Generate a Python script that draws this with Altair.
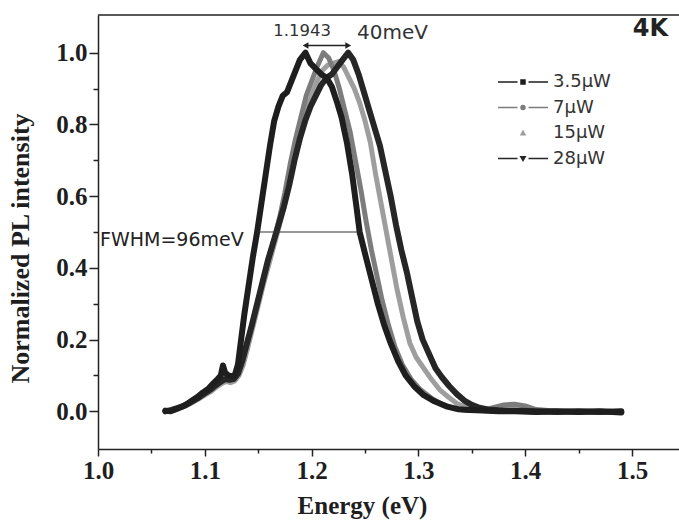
import altair as alt
import pandas as pd

# Photoluminescence spectra at 4 K for four excitation powers
series_names = ["3.5μW", "7μW", "15μW", "28μW"]
series_colors = ["#1e1e1e", "#7c7c7c", "#9e9e9e", "#262626"]
dark_series = ["3.5μW", "28μW"]

energy_35 = [1.063, 1.068, 1.073, 1.078, 1.083, 1.088, 1.093, 1.098, 1.103, 1.108, 1.112, 1.115,
             1.117, 1.119, 1.122, 1.125, 1.128, 1.131, 1.134, 1.137, 1.141, 1.145, 1.149, 1.153,
             1.157, 1.161, 1.165, 1.169, 1.173, 1.177, 1.181, 1.185, 1.189, 1.1943, 1.199, 1.204,
             1.209, 1.214, 1.219, 1.224, 1.228, 1.233, 1.238, 1.242, 1.245, 1.250, 1.256, 1.262,
             1.268, 1.274, 1.281, 1.288, 1.296, 1.305, 1.315, 1.326, 1.337, 1.348, 1.36, 1.375,
             1.39, 1.41, 1.43, 1.45, 1.47, 1.49]
pl_35 = [0.002, 0.0, 0.006, 0.012, 0.02, 0.03, 0.04, 0.052, 0.062, 0.078, 0.09, 0.1,
         0.128, 0.108, 0.1, 0.098, 0.1, 0.13, 0.2, 0.27, 0.35, 0.43, 0.50, 0.58,
         0.66, 0.74, 0.81, 0.85, 0.88, 0.89, 0.92, 0.95, 0.98, 1.0, 0.97, 0.955,
         0.94, 0.93, 0.905, 0.86, 0.82, 0.75, 0.66, 0.57, 0.50, 0.44, 0.37, 0.30,
         0.24, 0.19, 0.14, 0.10, 0.07, 0.045, 0.028, 0.014, 0.006, 0.004, 0.002, 0.0,
         0.0, -0.002, 0.0, -0.002, 0.0, -0.003]

energy_7 = [1.064, 1.07, 1.076, 1.082, 1.088, 1.094, 1.1, 1.106, 1.111, 1.116, 1.120, 1.124,
            1.128, 1.132, 1.136, 1.140, 1.145, 1.150, 1.155, 1.160, 1.165, 1.170, 1.175, 1.180,
            1.185, 1.190, 1.195, 1.200, 1.205, 1.211, 1.216, 1.221, 1.226, 1.231, 1.236, 1.241,
            1.246, 1.251, 1.256, 1.261, 1.266, 1.272, 1.278, 1.285, 1.293, 1.302, 1.312, 1.322,
            1.333, 1.345, 1.36, 1.37, 1.38, 1.39, 1.40, 1.41, 1.43, 1.45, 1.47, 1.49]
pl_7 = [0.0, 0.004, 0.01, 0.018, 0.028, 0.038, 0.05, 0.062, 0.075, 0.085, 0.09, 0.088,
        0.092, 0.11, 0.145, 0.19, 0.25, 0.31, 0.37, 0.43, 0.48, 0.54, 0.61, 0.69,
        0.76, 0.82, 0.88, 0.92, 0.96, 1.0, 0.985, 0.95, 0.90, 0.84, 0.78, 0.70,
        0.62, 0.53, 0.45, 0.38, 0.31, 0.24, 0.18, 0.13, 0.09, 0.06, 0.037, 0.02,
        0.008, 0.003, 0.003, 0.01, 0.018, 0.02, 0.015, 0.005, 0.0, -0.002, 0.0, -0.002]

energy_15 = [1.064, 1.07, 1.076, 1.082, 1.088, 1.094, 1.1, 1.106, 1.111, 1.116, 1.120, 1.124,
             1.128, 1.132, 1.136, 1.140, 1.145, 1.150, 1.155, 1.160, 1.165, 1.170, 1.175, 1.180,
             1.185, 1.190, 1.195, 1.200, 1.205, 1.210, 1.215, 1.220, 1.225, 1.230, 1.235, 1.240,
             1.245, 1.250, 1.255, 1.260, 1.265, 1.270, 1.275, 1.280, 1.286, 1.292, 1.298, 1.305,
             1.312, 1.320, 1.328, 1.336, 1.344, 1.352, 1.36, 1.375, 1.39, 1.41, 1.43, 1.45,
             1.47, 1.49]
pl_15 = [0.0, 0.003, 0.008, 0.015, 0.024, 0.034, 0.045, 0.056, 0.068, 0.078, 0.083, 0.08,
         0.085, 0.1, 0.13, 0.175, 0.235, 0.295, 0.355, 0.41, 0.465, 0.52, 0.58, 0.65,
         0.72, 0.78, 0.84, 0.88, 0.92, 0.95, 0.965, 0.97, 0.975, 0.96, 0.93, 0.90,
         0.86, 0.81, 0.75, 0.66, 0.58, 0.50, 0.42, 0.34, 0.26, 0.19, 0.15, 0.12,
         0.09, 0.06, 0.04, 0.022, 0.012, 0.005, 0.002, 0.0, 0.0, -0.002, 0.0, 0.0,
         -0.002, 0.0]

energy_28 = [1.063, 1.069, 1.075, 1.081, 1.087, 1.093, 1.099, 1.105, 1.110, 1.115, 1.119, 1.123,
             1.127, 1.131, 1.135, 1.139, 1.144, 1.149, 1.154, 1.159, 1.164, 1.169, 1.174, 1.179,
             1.184, 1.189, 1.194, 1.199, 1.204, 1.209, 1.214, 1.219, 1.224, 1.229, 1.2343, 1.239,
             1.244, 1.249, 1.254, 1.259, 1.264, 1.269, 1.274, 1.279, 1.284, 1.289, 1.294, 1.299,
             1.304, 1.310, 1.316, 1.322, 1.329, 1.336, 1.343, 1.350, 1.357, 1.365, 1.375, 1.39,
             1.41, 1.43, 1.45, 1.47, 1.49]
pl_28 = [0.0, 0.004, 0.01, 0.016, 0.026, 0.036, 0.048, 0.06, 0.072, 0.083, 0.09, 0.088,
         0.09, 0.105, 0.14, 0.185, 0.24, 0.30, 0.36, 0.42, 0.47, 0.52, 0.57, 0.63,
         0.70, 0.76, 0.81, 0.85, 0.88, 0.91, 0.93, 0.94, 0.96, 0.98, 1.0, 0.98,
         0.94, 0.89, 0.84, 0.79, 0.74, 0.67, 0.60, 0.52, 0.45, 0.39, 0.32, 0.25,
         0.20, 0.16, 0.12, 0.095, 0.07, 0.048, 0.03, 0.018, 0.01, 0.005, 0.003, 0.002,
         0.0, -0.002, 0.0, -0.002, 0.0]

# Annotated quantities (eV)
peak_low = 1.1943          # peak of the 3.5 μW spectrum
peak_shift = 0.040         # blue shift 3.5 μW -> 28 μW
fwhm_left = 1.149
fwhm_width = 0.096

curves = {
    "15μW": (energy_15, pl_15),
    "7μW": (energy_7, pl_7),
    "28μW": (energy_28, pl_28),
    "3.5μW": (energy_35, pl_35),
}
rows = []
for name, (xs, ys) in curves.items():
    for e, v in zip(xs, ys):
        rows.append({"series": name, "curve": name, "dark": name in dark_series,
                     "energy": e, "pl": v})
df = pd.DataFrame(rows)
one = pd.DataFrame({"k": [0]})

W, H = 581, 434
x_scale = alt.Scale(domain=[1.0, 1.544], nice=False, zero=False)
y_scale = alt.Scale(domain=[-0.105, 1.105], nice=False, zero=False)
col_scale = alt.Scale(domain=series_names, range=series_colors)

# legend glyphs: dash - marker - dash
legend_shapes = [
    "M-2.5,0H-0.55M0.55,0H2.5M-0.2,-0.2H0.2V0.2H-0.2Z",
    "M-2.5,0H-0.55M0.55,0H2.5M-0.2,0A0.2,0.2 0 1,0 0.2,0A0.2,0.2 0 1,0 -0.2,0Z",
    "M-0.2,0.18L0,-0.2L0.2,0.18Z",
    "M-2.5,0H-0.55M0.55,0H2.5M-0.22,-0.18L0.22,-0.18L0,0.2Z",
]
shape_scale = alt.Scale(domain=series_names, range=legend_shapes)

serif = "Liberation Serif"
sans = "DejaVu Sans"
major_x = "abs(datum.value*10 - round(datum.value*10)) < 0.01"
major_y = "abs(datum.value*5 - round(datum.value*5)) < 0.01"

x_axis = alt.Axis(
    values=[1.0, 1.05, 1.1, 1.15, 1.2, 1.25, 1.3, 1.35, 1.4, 1.45, 1.5],
    labelExpr=f"{major_x} ? format(datum.value, '.1f') : ''",
    tickSize={"condition": {"test": major_x, "value": 7}, "value": 4},
    labelFlush=False,
    title="Energy (eV)", titlePadding=10, titleX=264,
)
y_axis = alt.Axis(
    values=[0.0, 0.1, 0.2, 0.3, 0.4, 0.5, 0.6, 0.7, 0.8, 0.9, 1.0],
    labelExpr=f"{major_y} ? format(datum.value, '.1f') : ''",
    tickSize={"condition": {"test": major_y, "value": 9}, "value": 5},
    labelFlush=False,
    title="Normalized PL intensity", titlePadding=22, titleY=233, titleFontSize=26,
)

x_enc = alt.X("energy:Q", scale=x_scale, axis=x_axis)
y_enc = alt.Y("pl:Q", scale=y_scale, axis=y_axis)

legend = alt.Legend(
    title=None, orient="none", legendX=414, legendY=56, padding=0,
    symbolSize=400, symbolStrokeWidth=1.5, symbolOpacity=1,
    labelFont=sans, labelFontSize=18, labelColor="#333333",
    labelOffset=19, rowPadding=5.5,
)

# point layer underneath the lines; it carries the line+marker legend
points = alt.Chart(df).mark_point(size=1, strokeWidth=1.5).encode(
    x=x_enc, y=y_enc,
    shape=alt.Shape("series:N", scale=shape_scale, legend=legend),
    fill=alt.Fill("series:N", scale=col_scale, legend=legend),
    stroke=alt.Stroke("series:N", scale=col_scale, legend=legend),
)

# spectra drawn as thick lines: gray ones first, dark ones on top
lines_gray = alt.Chart(df).transform_filter("!datum.dark").mark_line(
    strokeWidth=5, strokeJoin="round", strokeCap="round"
).encode(
    x=x_enc, y=y_enc,
    color=alt.Color("curve:N", scale=col_scale, legend=None),
)
lines_dark = alt.Chart(df).transform_filter("datum.dark").mark_line(
    strokeWidth=6, strokeJoin="round", strokeCap="round"
).encode(
    x=x_enc, y=y_enc,
    color=alt.Color("curve:N", scale=col_scale, legend=None),
)

# top frame line
frame_top = alt.Chart(one).mark_rule(color="#222222", strokeWidth=1.5).encode(
    x=alt.value(0), x2=alt.value(W), y=alt.value(0)
)

# peak-shift double arrow
shift_df = pd.DataFrame({"a": [peak_low], "b": [peak_low + peak_shift], "y": [1.02]})
shift_line = alt.Chart(shift_df).mark_rule(color="#222222", strokeWidth=1.5).encode(
    x=alt.X("a:Q", scale=x_scale), x2="b:Q", y=alt.Y("y:Q", scale=y_scale)
)
shift_left = alt.Chart(shift_df).mark_point(shape="triangle-left", filled=True, size=45,
                                            color="#222222", opacity=1).encode(
    x=alt.X("a:Q", scale=x_scale), y=alt.Y("y:Q", scale=y_scale)
)
shift_right = alt.Chart(shift_df).mark_point(shape="triangle-right", filled=True, size=45,
                                             color="#222222", opacity=1).encode(
    x=alt.X("b:Q", scale=x_scale), y=alt.Y("y:Q", scale=y_scale)
)

# FWHM arrow
fwhm_df = pd.DataFrame({"a": [fwhm_left], "b": [fwhm_left + fwhm_width], "y": [0.5]})
fwhm_line = alt.Chart(fwhm_df).mark_rule(color="#333333", strokeWidth=1.2).encode(
    x=alt.X("a:Q", scale=x_scale), x2="b:Q", y=alt.Y("y:Q", scale=y_scale)
)
fwhm_head = alt.Chart(fwhm_df).mark_point(shape="triangle-right", filled=True, size=40,
                                          color="#222222", opacity=1).encode(
    x=alt.X("b:Q", scale=x_scale), y=alt.Y("y:Q", scale=y_scale)
)


def label(text, px, py, align, size, weight="normal", color="#333333"):
    return alt.Chart(one).mark_text(
        text=text, align=align, baseline="middle", font=sans,
        fontSize=size, fontWeight=weight, color=color,
    ).encode(x=alt.value(px), y=alt.value(py))


t_peak = label("1.1943", 204, 15.5, "center", 16.5)
t_shift = label("40meV", 259, 17.5, "left", 20)
t_fwhm = label("FWHM=96meV", 2, 225, "left", 19, color="#222222")
t_temp = label("4K", 570, 13.5, "right", 24, weight="bold", color="#222222")

chart = alt.layer(
    frame_top, points, lines_gray, lines_dark, shift_line, shift_left, shift_right,
    fwhm_line, fwhm_head, t_peak, t_shift, t_fwhm, t_temp,
).properties(
    width=W, height=H,
    autosize=alt.AutoSizeParams(type="none"),
    padding={"left": 98, "top": 15, "right": 0, "bottom": 76},
    background="white",
).configure_view(
    strokeWidth=0
).configure_axis(
    grid=False,
    domainColor="#222222", domainWidth=1.5,
    tickColor="#222222", tickWidth=1.5,
    labelFont=serif, labelFontWeight="bold", labelFontSize=25, labelColor="#1e1e1e",
    labelPadding=2,
    titleFont=serif, titleFontWeight="bold", titleFontSize=25, titleColor="#1e1e1e",
)

chart.save("out.html", embed_options={"renderer": "svg", "actions": False})
